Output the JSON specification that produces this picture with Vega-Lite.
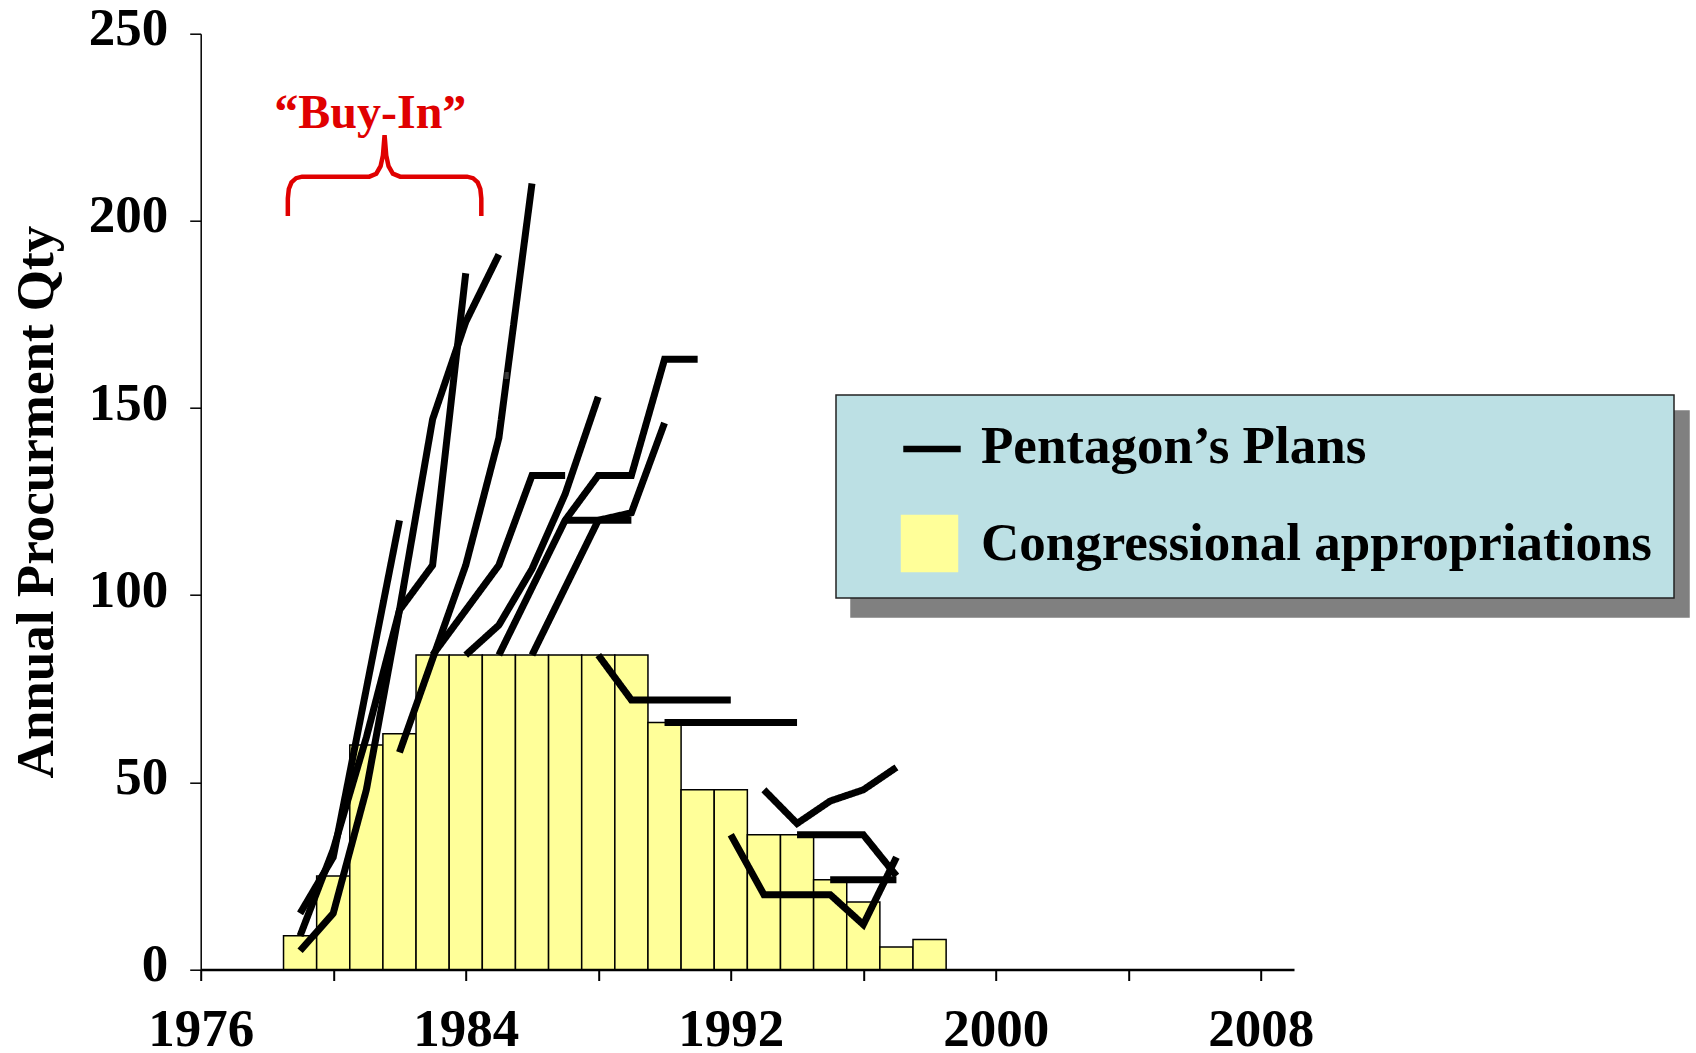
{
  "$schema": "https://vega.github.io/schema/vega-lite/v6.json",
  "width": 1093.3,
  "height": 935.8,
  "autosize": {"type": "none"},
  "padding": {"left": 200.7, "top": 33.7, "right": 402, "bottom": 83.5},
  "background": "white",
  "config": {
    "view": {"stroke": null},
    "font": "Liberation Serif",
    "axis": {
      "labelFont": "Liberation Serif", "labelFontWeight": "bold", "labelFontSize": 53, "labelColor": "#000",
      "titleFont": "Liberation Serif", "titleFontWeight": "bold", "titleFontSize": 53, "titleColor": "#000",
      "grid": false, "domainColor": "#000", "tickColor": "#000", "tickSize": 11
    },
    "legend": {
      "title": null, "orient": "none", "direction": "vertical", "padding": 22, "symbolOffset": 42,
      "rowPadding": 35, "labelOffset": 22, "labelFont": "Liberation Serif", "labelFontWeight": "bold",
      "labelFontSize": 53, "labelColor": "#000", "labelLimit": 2000, "symbolSize": 3300, "strokeWidth": 1.5
    }
  },
  "datasets": {
    "appropriations": [
      {"year": 1979, "qty": 9, "series": "Congressional appropriations"},
      {"year": 1980, "qty": 25, "series": "Congressional appropriations"},
      {"year": 1981, "qty": 60, "series": "Congressional appropriations"},
      {"year": 1982, "qty": 63, "series": "Congressional appropriations"},
      {"year": 1983, "qty": 84, "series": "Congressional appropriations"},
      {"year": 1984, "qty": 84, "series": "Congressional appropriations"},
      {"year": 1985, "qty": 84, "series": "Congressional appropriations"},
      {"year": 1986, "qty": 84, "series": "Congressional appropriations"},
      {"year": 1987, "qty": 84, "series": "Congressional appropriations"},
      {"year": 1988, "qty": 84, "series": "Congressional appropriations"},
      {"year": 1989, "qty": 84, "series": "Congressional appropriations"},
      {"year": 1990, "qty": 66, "series": "Congressional appropriations"},
      {"year": 1991, "qty": 48, "series": "Congressional appropriations"},
      {"year": 1992, "qty": 48, "series": "Congressional appropriations"},
      {"year": 1993, "qty": 36, "series": "Congressional appropriations"},
      {"year": 1994, "qty": 36, "series": "Congressional appropriations"},
      {"year": 1995, "qty": 24, "series": "Congressional appropriations"},
      {"year": 1996, "qty": 18, "series": "Congressional appropriations"},
      {"year": 1997, "qty": 6, "series": "Congressional appropriations"},
      {"year": 1998, "qty": 8, "series": "Congressional appropriations"}
    ],
    "plans": [
      {"plan": "P1", "year": 1979, "qty": 15, "series": "Pentagon’s Plans"},
      {"plan": "P1", "year": 1980, "qty": 30, "series": "Pentagon’s Plans"},
      {"plan": "P1", "year": 1981, "qty": 75, "series": "Pentagon’s Plans"},
      {"plan": "P1", "year": 1982, "qty": 120, "series": "Pentagon’s Plans"},
      {"plan": "P2", "year": 1979, "qty": 9, "series": "Pentagon’s Plans"},
      {"plan": "P2", "year": 1980, "qty": 32, "series": "Pentagon’s Plans"},
      {"plan": "P2", "year": 1981, "qty": 62, "series": "Pentagon’s Plans"},
      {"plan": "P2", "year": 1982, "qty": 96, "series": "Pentagon’s Plans"},
      {"plan": "P2", "year": 1983, "qty": 147, "series": "Pentagon’s Plans"},
      {"plan": "P2", "year": 1984, "qty": 173, "series": "Pentagon’s Plans"},
      {"plan": "P2", "year": 1985, "qty": 191, "series": "Pentagon’s Plans"},
      {"plan": "P3", "year": 1979, "qty": 5, "series": "Pentagon’s Plans"},
      {"plan": "P3", "year": 1980, "qty": 15, "series": "Pentagon’s Plans"},
      {"plan": "P3", "year": 1981, "qty": 48, "series": "Pentagon’s Plans"},
      {"plan": "P3", "year": 1982, "qty": 96, "series": "Pentagon’s Plans"},
      {"plan": "P3", "year": 1983, "qty": 108, "series": "Pentagon’s Plans"},
      {"plan": "P3", "year": 1984, "qty": 186, "series": "Pentagon’s Plans"},
      {"plan": "P4", "year": 1982, "qty": 58, "series": "Pentagon’s Plans"},
      {"plan": "P4", "year": 1983, "qty": 83, "series": "Pentagon’s Plans"},
      {"plan": "P4", "year": 1984, "qty": 108, "series": "Pentagon’s Plans"},
      {"plan": "P4", "year": 1985, "qty": 142, "series": "Pentagon’s Plans"},
      {"plan": "P4", "year": 1986, "qty": 210, "series": "Pentagon’s Plans"},
      {"plan": "P5", "year": 1983, "qty": 84, "series": "Pentagon’s Plans"},
      {"plan": "P5", "year": 1984, "qty": 96, "series": "Pentagon’s Plans"},
      {"plan": "P5", "year": 1985, "qty": 108, "series": "Pentagon’s Plans"},
      {"plan": "P5", "year": 1986, "qty": 132, "series": "Pentagon’s Plans"},
      {"plan": "P5", "year": 1987, "qty": 132, "series": "Pentagon’s Plans"},
      {"plan": "P6", "year": 1984, "qty": 84, "series": "Pentagon’s Plans"},
      {"plan": "P6", "year": 1985, "qty": 92, "series": "Pentagon’s Plans"},
      {"plan": "P6", "year": 1986, "qty": 107, "series": "Pentagon’s Plans"},
      {"plan": "P6", "year": 1987, "qty": 127, "series": "Pentagon’s Plans"},
      {"plan": "P6", "year": 1988, "qty": 153, "series": "Pentagon’s Plans"},
      {"plan": "P7", "year": 1985, "qty": 84, "series": "Pentagon’s Plans"},
      {"plan": "P7", "year": 1986, "qty": 102, "series": "Pentagon’s Plans"},
      {"plan": "P7", "year": 1987, "qty": 120, "series": "Pentagon’s Plans"},
      {"plan": "P7", "year": 1988, "qty": 132, "series": "Pentagon’s Plans"},
      {"plan": "P7", "year": 1989, "qty": 132, "series": "Pentagon’s Plans"},
      {"plan": "P7", "year": 1990, "qty": 163, "series": "Pentagon’s Plans"},
      {"plan": "P7", "year": 1991, "qty": 163, "series": "Pentagon’s Plans"},
      {"plan": "P8", "year": 1986, "qty": 84, "series": "Pentagon’s Plans"},
      {"plan": "P8", "year": 1987, "qty": 102, "series": "Pentagon’s Plans"},
      {"plan": "P8", "year": 1988, "qty": 120, "series": "Pentagon’s Plans"},
      {"plan": "P8", "year": 1989, "qty": 122, "series": "Pentagon’s Plans"},
      {"plan": "P8", "year": 1990, "qty": 146, "series": "Pentagon’s Plans"},
      {"plan": "P9", "year": 1987, "qty": 120, "series": "Pentagon’s Plans"},
      {"plan": "P9", "year": 1988, "qty": 120, "series": "Pentagon’s Plans"},
      {"plan": "P9", "year": 1989, "qty": 120, "series": "Pentagon’s Plans"},
      {"plan": "P10", "year": 1988, "qty": 84, "series": "Pentagon’s Plans"},
      {"plan": "P10", "year": 1989, "qty": 72, "series": "Pentagon’s Plans"},
      {"plan": "P10", "year": 1990, "qty": 72, "series": "Pentagon’s Plans"},
      {"plan": "P10", "year": 1991, "qty": 72, "series": "Pentagon’s Plans"},
      {"plan": "P10", "year": 1992, "qty": 72, "series": "Pentagon’s Plans"},
      {"plan": "P11", "year": 1990, "qty": 66, "series": "Pentagon’s Plans"},
      {"plan": "P11", "year": 1991, "qty": 66, "series": "Pentagon’s Plans"},
      {"plan": "P11", "year": 1992, "qty": 66, "series": "Pentagon’s Plans"},
      {"plan": "P11", "year": 1993, "qty": 66, "series": "Pentagon’s Plans"},
      {"plan": "P11", "year": 1994, "qty": 66, "series": "Pentagon’s Plans"},
      {"plan": "P12", "year": 1992, "qty": 36, "series": "Pentagon’s Plans"},
      {"plan": "P12", "year": 1993, "qty": 20, "series": "Pentagon’s Plans"},
      {"plan": "P12", "year": 1994, "qty": 20, "series": "Pentagon’s Plans"},
      {"plan": "P12", "year": 1995, "qty": 20, "series": "Pentagon’s Plans"},
      {"plan": "P12", "year": 1996, "qty": 12, "series": "Pentagon’s Plans"},
      {"plan": "P12", "year": 1997, "qty": 30, "series": "Pentagon’s Plans"},
      {"plan": "P13", "year": 1993, "qty": 48, "series": "Pentagon’s Plans"},
      {"plan": "P13", "year": 1994, "qty": 39, "series": "Pentagon’s Plans"},
      {"plan": "P13", "year": 1995, "qty": 45, "series": "Pentagon’s Plans"},
      {"plan": "P13", "year": 1996, "qty": 48, "series": "Pentagon’s Plans"},
      {"plan": "P13", "year": 1997, "qty": 54, "series": "Pentagon’s Plans"},
      {"plan": "P14", "year": 1994, "qty": 36, "series": "Pentagon’s Plans"},
      {"plan": "P14", "year": 1995, "qty": 36, "series": "Pentagon’s Plans"},
      {"plan": "P14", "year": 1996, "qty": 36, "series": "Pentagon’s Plans"},
      {"plan": "P14", "year": 1997, "qty": 25, "series": "Pentagon’s Plans"},
      {"plan": "P15", "year": 1995, "qty": 24, "series": "Pentagon’s Plans"},
      {"plan": "P15", "year": 1996, "qty": 24, "series": "Pentagon’s Plans"},
      {"plan": "P15", "year": 1997, "qty": 24, "series": "Pentagon’s Plans"}
    ],
    "brace": [
      {"i": 1, "year": 1978.63, "qty": 201.3},
      {"i": 2, "year": 1978.63, "qty": 206.0},
      {"i": 3, "year": 1978.66, "qty": 208.5},
      {"i": 4, "year": 1978.74, "qty": 210.3},
      {"i": 5, "year": 1978.88, "qty": 211.4},
      {"i": 6, "year": 1979.06, "qty": 211.8},
      {"i": 7, "year": 1981.09, "qty": 211.8},
      {"i": 8, "year": 1981.30, "qty": 212.6},
      {"i": 9, "year": 1981.43, "qty": 214.6},
      {"i": 10, "year": 1981.50, "qty": 217.5},
      {"i": 11, "year": 1981.55, "qty": 222.9},
      {"i": 12, "year": 1981.60, "qty": 217.5},
      {"i": 13, "year": 1981.67, "qty": 214.6},
      {"i": 14, "year": 1981.80, "qty": 212.6},
      {"i": 15, "year": 1982.02, "qty": 211.8},
      {"i": 16, "year": 1984.04, "qty": 211.8},
      {"i": 17, "year": 1984.22, "qty": 211.4},
      {"i": 18, "year": 1984.36, "qty": 210.3},
      {"i": 19, "year": 1984.44, "qty": 208.5},
      {"i": 20, "year": 1984.47, "qty": 206.0},
      {"i": 21, "year": 1984.47, "qty": 201.3}
    ],
    "annotation": [
      {"label": "“Buy-In”", "year": 1981.12, "qty": 224.9}
    ]
  },
  "layer": [
    {
      "data": {"name": "appropriations"},
      "mark": {"type": "bar", "size": 33.13, "stroke": "#000", "strokeWidth": 1.5},
      "encoding": {
        "x": {
          "field": "year", "type": "quantitative",
          "scale": {"domain": [1976, 2009], "nice": false, "zero": false, "padding": 0},
          "axis": {
            "title": null, "values": [1976, 1980, 1984, 1988, 1992, 1996, 2000, 2004, 2008],
            "format": "d", "labelExpr": "datum.value % 8 === 0 ? datum.label : ''",
            "labelFlush": false, "labelOverlap": false, "labelPadding": 23,
            "domainWidth": 2.5, "tickWidth": 2
          }
        },
        "y": {
          "field": "qty", "type": "quantitative",
          "scale": {"domain": [0, 250], "nice": false, "padding": 0},
          "axis": {
            "title": "Annual Procurment Qty", "values": [0, 50, 100, 150, 200, 250],
            "labelPadding": 22, "labelOffset": -5, "titlePadding": 25,
            "domainWidth": 1.5, "tickWidth": 1.5
          }
        },
        "color": {
          "field": "series", "type": "nominal",
          "scale": {"domain": ["Pentagon’s Plans", "Congressional appropriations"], "range": ["#BCE0E4", "#FFFF99"]},
          "legend": {
            "legendX": 635.3, "legendY": 361.3, "fillColor": "#BCE0E4", "strokeColor": "#222222",
            "symbolType": "square", "symbolStrokeColor": "#000000", "symbolStrokeWidth": 1.5, "zindex": 1
          }
        },
        "opacity": {
          "field": "series", "type": "nominal",
          "scale": {"domain": ["Pentagon’s Plans", "Congressional appropriations"], "range": [0, 1]},
          "legend": {
            "legendX": 635.3, "legendY": 361.3, "fillColor": "#BCE0E4", "strokeColor": "#222222",
            "symbolType": "square", "symbolStrokeColor": "#000000", "symbolStrokeWidth": 1.5, "zindex": 1
          }
        }
      }
    },
    {
      "data": {"name": "plans"},
      "mark": {"type": "line", "strokeWidth": 7, "strokeCap": "butt", "strokeJoin": "miter"},
      "encoding": {
        "x": {"field": "year", "type": "quantitative"},
        "y": {"field": "qty", "type": "quantitative"},
        "detail": {"field": "plan", "type": "nominal"},
        "strokeDash": {
          "field": "series", "type": "nominal",
          "scale": {"domain": ["Pentagon’s Plans"], "range": [[1, 0]]},
          "legend": {
            "legendX": 635.3, "legendY": 361.3, "symbolType": "stroke",
            "symbolStrokeColor": "#000000", "symbolStrokeWidth": 6.5, "symbolDash": [1, 0],
            "labelOpacity": 0, "zindex": 2
          }
        },
        "stroke": {
          "field": "series", "type": "nominal",
          "scale": {"domain": ["Congressional appropriations", "Pentagon’s Plans"], "range": ["#000000", "#000000"]},
          "legend": {
            "legendX": 650.3, "legendY": 377.3, "fillColor": "#808080", "strokeColor": "#808080",
            "symbolType": "square", "symbolFillColor": "#808080", "symbolStrokeColor": "#808080",
            "symbolStrokeWidth": 1.5, "labelOpacity": 0, "zindex": 0
          }
        }
      }
    },
    {
      "data": {"name": "brace"},
      "mark": {"type": "line", "color": "#E00000", "strokeWidth": 4.5, "strokeCap": "butt"},
      "encoding": {
        "x": {"field": "year", "type": "quantitative"},
        "y": {"field": "qty", "type": "quantitative"},
        "order": {"field": "i", "type": "quantitative"}
      }
    },
    {
      "data": {"name": "annotation"},
      "mark": {"type": "text", "font": "Liberation Serif", "fontWeight": "bold", "fontSize": 48, "color": "#E00000", "align": "center", "baseline": "alphabetic"},
      "encoding": {
        "x": {"field": "year", "type": "quantitative"},
        "y": {"field": "qty", "type": "quantitative"},
        "text": {"field": "label"}
      }
    }
  ]
}
